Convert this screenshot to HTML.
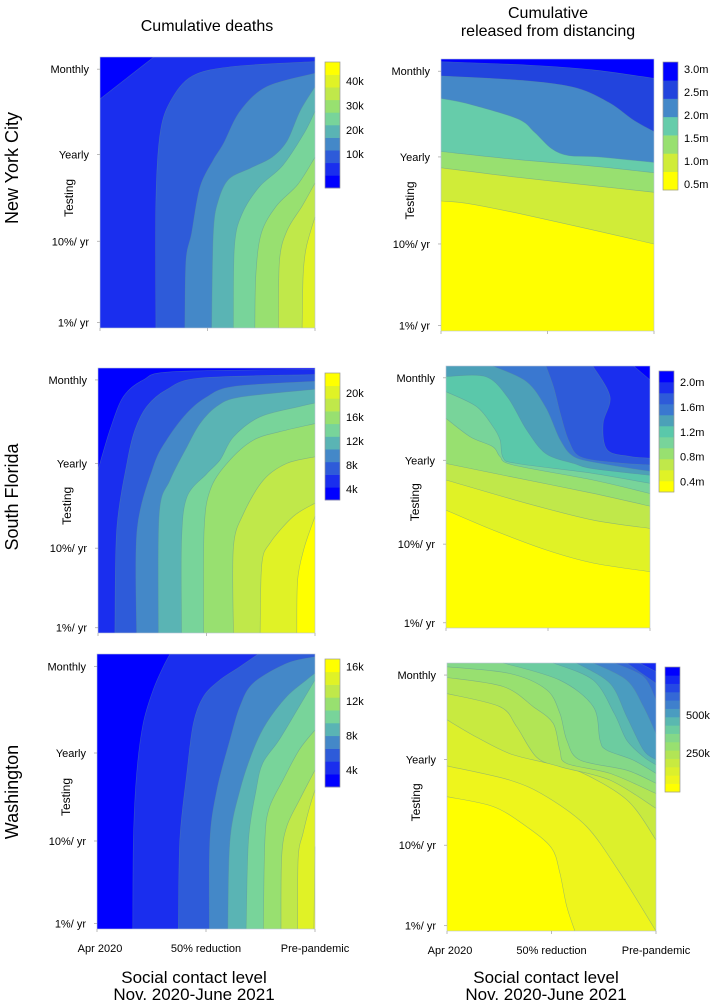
<!DOCTYPE html>
<html><head><meta charset="utf-8"><style>
html,body{margin:0;padding:0;background:#fff;}
svg{display:block;font-family:"Liberation Sans",sans-serif;}
</style></head><body>
<svg id="fig" width="714" height="1002" viewBox="0 0 714 1002" xmlns="http://www.w3.org/2000/svg">
<g id="texts">
<text x="207" y="31" font-size="16" text-anchor="middle">Cumulative deaths</text>
<text x="548" y="18" font-size="16" text-anchor="middle">Cumulative</text>
<text x="548" y="36" font-size="16" text-anchor="middle">released from distancing</text>
<text transform="translate(18,168) rotate(-90)" font-size="18" text-anchor="middle">New York City</text>
<text transform="translate(18,497) rotate(-90)" font-size="18" text-anchor="middle">South Florida</text>
<text transform="translate(18,792) rotate(-90)" font-size="18" text-anchor="middle">Washington</text>
<text x="194" y="983" font-size="17" text-anchor="middle">Social contact level</text>
<text x="194" y="1000" font-size="17" text-anchor="middle">Nov. 2020-June 2021</text>
<text x="546" y="983" font-size="17" text-anchor="middle">Social contact level</text>
<text x="546" y="1000" font-size="17" text-anchor="middle">Nov. 2020-June 2021</text>
</g>
</svg>
<script>
// ---- data: contour boundary curves as [contact level u (0..1), testing v (0..1)] ----
const yTickLabels = ["Monthly","Yearly","10%/ yr","1%/ yr"];
const yTickValues = [0.955,0.64,0.32,0.02];
const xTickLabels = ["Apr 2020","50% reduction","Pre-pandemic"];
const xTickValues = [0,0.5,1];

const deathColors = ["#0000ff","#1a2eee","#2e5bd9","#4488c8","#5ab4b4","#78d49a","#98e070","#c0e84a","#e0f226","#ffff00"];
const nycReleasedColors = ["#ffff00","#d0ec38","#98e070","#66ccaa","#4488c8","#2244dd","#0000ff"];
const flReleasedColors = ["#ffff00","#e0f226","#c0e84a","#98e070","#78d49a","#5ac8aa","#4ca0b8","#3a78d0","#2e5bd9","#1a2eee","#0000ff"];
const waReleasedColors = ["#ffff00","#eef51c","#dcf02c","#c8ea40","#b2e555","#98e070","#84d888","#6ccca0","#5ab8b0","#4a9cc0","#3f80cc","#3468d6","#2448e4","#1428f2","#0000ff"];

const nycDeaths = [
 [[0,0.845],[0.25,1]],
 [[0.26,0],[0.26,0.47],[0.28,0.72],[0.33,0.84],[0.43,0.93],[0.62,0.965],[1,0.983]],
 [[0.395,0],[0.40,0.25],[0.426,0.35],[0.465,0.52],[0.527,0.62],[0.574,0.68],[0.651,0.80],[0.775,0.89],[1,0.94]],
 [[0.519,0],[0.527,0.35],[0.55,0.47],[0.60,0.55],[0.70,0.59],[0.80,0.63],[0.87,0.69],[0.93,0.80],[1,0.89]],
 [[0.62,0],[0.625,0.3],[0.66,0.42],[0.74,0.52],[0.85,0.60],[0.95,0.72],[1,0.80]],
 [[0.72,0],[0.725,0.2],[0.75,0.35],[0.82,0.45],[0.92,0.53],[1,0.63]],
 [[0.83,0],[0.835,0.25],[0.87,0.36],[0.94,0.45],[1,0.535]],
 [[0.94,0],[0.945,0.2],[0.96,0.3],[1,0.41]]
];
const flDeaths = [
 [[0,0.615],[0.055,0.766],[0.117,0.892],[0.209,0.955],[0.346,0.986],[1,0.995]],
 [[0.078,0],[0.086,0.389],[0.133,0.64],[0.17,0.766],[0.225,0.855],[0.316,0.918],[0.47,0.962],[1,0.975]],
 [[0.178,0],[0.18,0.39],[0.255,0.627],[0.316,0.728],[0.41,0.83],[0.5,0.89],[0.624,0.93],[1,0.95]],
 [[0.278,0],[0.282,0.45],[0.332,0.577],[0.41,0.703],[0.47,0.79],[0.547,0.855],[0.655,0.89],[1,0.92]],
 [[0.385,0],[0.385,0.35],[0.41,0.514],[0.5,0.6],[0.563,0.654],[0.624,0.74],[0.747,0.816],[0.93,0.855],[1,0.868]],
 [[0.486,0],[0.489,0.39],[0.517,0.54],[0.594,0.64],[0.716,0.728],[0.87,0.766],[1,0.79]],
 [[0.624,0],[0.624,0.324],[0.67,0.45],[0.762,0.577],[0.87,0.64],[1,0.665]],
 [[0.747,0],[0.755,0.26],[0.793,0.34],[0.9,0.44],[1,0.49]],
 [[0.916,0],[0.92,0.2],[0.95,0.32],[1,0.44]]
];
const waDeaths = [
 [[0.164,0],[0.167,0.324],[0.182,0.566],[0.212,0.748],[0.258,0.87],[0.304,0.954],[0.335,1]],
 [[0.373,0],[0.38,0.324],[0.412,0.566],[0.442,0.748],[0.488,0.845],[0.564,0.906],[0.656,0.954],[0.74,1]],
 [[0.515,0],[0.518,0.324],[0.55,0.506],[0.61,0.688],[0.656,0.81],[0.717,0.894],[0.87,0.966],[1,0.99]],
 [[0.6,0],[0.61,0.324],[0.656,0.506],[0.717,0.652],[0.778,0.75],[0.87,0.845],[0.961,0.906],[1,0.93]],
 [[0.684,0],[0.695,0.324],[0.73,0.506],[0.76,0.603],[0.836,0.688],[0.928,0.81],[1,0.906]],
 [[0.763,0],[0.77,0.324],[0.79,0.44],[0.852,0.54],[0.928,0.652],[1,0.724]],
 [[0.844,0],[0.847,0.26],[0.87,0.372],[0.928,0.468],[0.975,0.54],[1,0.578]],
 [[0.92,0],[0.923,0.26],[0.945,0.348],[0.976,0.445],[1,0.506]],
 [[0.995,0],[1,0.3]]
];
const nycReleased = [
 [[0,0.478],[0.124,0.469],[0.36,0.433],[0.715,0.371],[1,0.32]],
 [[0,0.6],[0.36,0.565],[1,0.51]],
 [[0,0.66],[0.36,0.63],[0.715,0.606],[1,0.582]],
 [[0,0.855],[0.124,0.836],[0.36,0.78],[0.44,0.73],[0.52,0.67],[0.60,0.645],[0.74,0.64],[1,0.62]],
 [[0,0.938],[0.402,0.92],[0.637,0.893],[0.794,0.837],[0.904,0.775],[1,0.733]],
 [[0,0.99],[0.402,0.978],[0.715,0.96],[1,0.929]]
];
const flReleased = [
 [[0,0.45],[0.23,0.374],[0.49,0.298],[0.72,0.248],[1,0.215]],
 [[0,0.565],[0.395,0.476],[0.72,0.412],[1,0.38]],
 [[0,0.628],[0.314,0.578],[0.72,0.514],[1,0.465]],
 [[0,0.80],[0.118,0.73],[0.23,0.692],[0.265,0.654],[0.33,0.622],[0.72,0.565],[1,0.513]],
 [[0,0.902],[0.15,0.845],[0.23,0.769],[0.265,0.718],[0.28,0.65],[0.347,0.628],[0.72,0.59],[1,0.552]],
 [[0,0.96],[0.192,0.96],[0.30,0.883],[0.395,0.756],[0.49,0.665],[0.627,0.628],[0.72,0.608],[1,0.583]],
 [[0.23,1],[0.395,0.94],[0.49,0.84],[0.56,0.718],[0.627,0.654],[0.76,0.628],[1,0.598]],
 [[0.49,1],[0.527,0.92],[0.56,0.82],[0.60,0.718],[0.657,0.654],[0.82,0.632],[1,0.622]],
 [[0.72,1],[0.804,0.883],[0.77,0.78],[0.79,0.68],[0.9,0.655],[1,0.648]],
 [[0.92,1],[1,0.947]]
];
const waReleased = [
 [[0,0.501],[0.222,0.464],[0.38,0.39],[0.5,0.31],[0.54,0.216],[0.573,0.091],[0.612,0]],
 [[0,0.616],[0.30,0.563],[0.477,0.501],[0.668,0.39],[0.828,0.216],[1,0]],
 [[0,0.788],[0.14,0.724],[0.30,0.662],[0.46,0.63],[0.62,0.6],[0.86,0.49],[1,0.34]],
 [[0,0.886],[0.253,0.837],[0.333,0.763],[0.428,0.649],[0.54,0.613],[0.78,0.563],[1,0.458]],
 [[0,0.946],[0.27,0.912],[0.413,0.837],[0.508,0.775],[0.54,0.675],[0.573,0.625],[0.78,0.588],[1,0.513]],
 [[0,0.986],[0.30,0.961],[0.477,0.9],[0.54,0.812],[0.573,0.712],[0.636,0.638],[0.86,0.6],[1,0.551]],
 [[0.27,1],[0.54,0.936],[0.7,0.837],[0.732,0.712],[0.764,0.675],[0.89,0.638],[1,0.588]],
 [[0.508,1],[0.7,0.936],[0.8,0.812],[0.86,0.712],[0.94,0.65],[1,0.62]],
 [[0.62,1],[0.78,0.924],[0.86,0.8],[0.94,0.675],[1,0.639]],
 [[0.7,1],[0.86,0.936],[0.94,0.837],[1,0.737]],
 [[0.8,1],[0.94,0.949],[1,0.862]],
 [[0.86,1],[1,0.924]],
 [[0.92,1],[1,0.968]]
];
const nycDeathTicks = [10,20,30,40], nycDeathTickText = ["10k","20k","30k","40k"];
const flDeathTicks = [4,8,12,16,20], flDeathTickText = ["4k","8k","12k","16k","20k"];
const waDeathTicks = [4,8,12,16], waDeathTickText = ["4k","8k","12k","16k"];
const nycRelTicks = [0.5,1.0,1.5,2.0,2.5,3.0], nycRelTickText = ["0.5m","1.0m","1.5m","2.0m","2.5m","3.0m"];
const flRelTicks = [0.4,0.8,1.2,1.6,2.0], flRelTickText = ["0.4m","0.8m","1.2m","1.6m","2.0m"];
const waRelTicks = [250,500], waRelTickText = ["250k","500k"];

const panels = [
 {name:"nyc-deaths",x:100,y:57,w:215,h:271,curves:nycDeaths,colors:deathColors,rev:false,cb:{x:325,y:62,h:126,min:-3.8,max:47.7,ticks:nycDeathTicks,text:nycDeathTickText}},
 {name:"nyc-released",x:441,y:59,w:213,h:272,curves:nycReleased,colors:nycReleasedColors,rev:true,cb:{x:663,y:62,h:128,min:0.37,max:3.15,ticks:nycRelTicks,text:nycRelTickText}},
 {name:"fl-deaths",x:98,y:368,w:217,h:265,curves:flDeaths,colors:deathColors,rev:false,cb:{x:325,y:373,h:127,min:2.2,max:23.3,ticks:flDeathTicks,text:flDeathTickText}},
 {name:"fl-released",x:446,y:366,w:204,h:262,curves:flReleased,colors:flReleasedColors,rev:true,cb:{x:659,y:371,h:121,min:0.23,max:2.18,ticks:flRelTicks,text:flRelTickText}},
 {name:"wa-deaths",x:97,y:654,w:218,h:275,curves:waDeaths,colors:deathColors,rev:false,cb:{x:325,y:659,h:128,min:2.0,max:16.9,ticks:waDeathTicks,text:waDeathTickText}},
 {name:"wa-released",x:447,y:663,w:209,h:268,curves:waReleased,colors:waReleasedColors,rev:true,cb:{x:665,y:667,h:125,min:-7,max:816,ticks:waRelTicks,text:waRelTickText}}
];

const NS="http://www.w3.org/2000/svg";
const svg=document.getElementById('fig');
function mk(tag,attrs,parent){const e=document.createElementNS(NS,tag);for(const k in attrs)e.setAttribute(k,attrs[k]);parent.appendChild(e);return e;}
function perimT(p){const u=p[0],v=p[1];
 if(v>=0.999)return u; if(u>=0.999)return 1+(1-v); if(v<=0.001)return 2+(1-u); return 3+v;}
const cornerPts=[[0,1],[1,1],[1,0],[0,0]];
// Catmull-Rom smooth path through screen points
function smooth(sp){
 let d='M'+sp[0][0].toFixed(1)+','+sp[0][1].toFixed(1);
 for(let i=0;i<sp.length-1;i++){
  const p0=sp[Math.max(0,i-1)],p1=sp[i],p2=sp[i+1],p3=sp[Math.min(sp.length-1,i+2)];
  const t=0.16;
  const c1=[p1[0]+(p2[0]-p0[0])*t,p1[1]+(p2[1]-p0[1])*t];
  const c2=[p2[0]-(p3[0]-p1[0])*t,p2[1]-(p3[1]-p1[1])*t];
  d+=' C'+c1[0].toFixed(1)+','+c1[1].toFixed(1)+' '+c2[0].toFixed(1)+','+c2[1].toFixed(1)+' '+p2[0].toFixed(1)+','+p2[1].toFixed(1);
 }
 return d;
}

panels.forEach((P,pi)=>{
 const g=mk('g',{},svg);
 
 
 const sx=u=>P.x+u*P.w, sy=v=>P.y+(1-v)*P.h;
 const bg=mk('rect',{x:P.x,y:P.y,width:P.w,height:P.h,fill:P.colors[0]},g);
 
 
 P.curves.forEach((c0,ci)=>{
  const c=P.rev?c0.slice().reverse():c0;
  const sp=c.map(p=>[sx(p[0]),sy(p[1])]);
  const tS=perimT(c[0]); let tE=perimT(c[c.length-1]); let ts=tS; if(ts<=tE)ts+=4;
  let d=smooth(sp);
  for(let k=Math.floor(tE)+1;k<ts;k++){const cp=cornerPts[k%4];d+=' L'+sx(cp[0]).toFixed(1)+','+sy(cp[1]).toFixed(1);}
  d+='Z';
  const band=mk('path',{d:d,fill:P.colors[ci+1]},g);
  
  
  const line=mk('path',{d:smooth(sp),fill:'none',stroke:'#5a8aa0','stroke-opacity':0.5,'stroke-width':0.6},g);
  
  
 });
 const border=mk('rect',{x:P.x,y:P.y,width:P.w,height:P.h,fill:'none',stroke:'#b8c4d8','stroke-width':0.6},g);
 
 
 yTickValues.forEach((v,i)=>{
  mk('line',{x1:P.x-3,x2:P.x,y1:sy(v),y2:sy(v),stroke:'#aaa','stroke-width':0.8},g);
  const t=mk('text',{x:P.x-11,y:sy(v)+4,'font-size':11,'text-anchor':'end'},g);
  t.textContent=yTickLabels[i];
  
  
 });
 xTickValues.forEach((u,i)=>{
  mk('line',{x1:sx(u),x2:sx(u),y1:P.y+P.h,y2:P.y+P.h+3,stroke:'#aaa','stroke-width':0.8},g);
  if(pi>=4){const t=mk('text',{x:sx(u)+(i===0?3:0),y:P.y+P.h+23,'font-size':11,'text-anchor':'middle'},g);
   t.textContent=xTickLabels[i];
   
   }
 });
 const tx=P.x-27, ty=P.y+P.h*0.52;
 const tt=mk('text',{transform:'translate('+tx+','+ty+') rotate(-90)','font-size':12,'text-anchor':'middle'},g);
 tt.textContent='Testing';
 
 
 const cb=P.cb, n=P.colors.length, sh=cb.h/n;
 const cg=mk('g',{},g);
 
 
 P.colors.forEach((col,i)=>{
  const r=mk('rect',{x:cb.x,y:cb.y+cb.h-(i+1)*sh,width:15,height:sh+0.3,fill:col},cg);
  
  
 });
 mk('rect',{x:cb.x,y:cb.y,width:15,height:cb.h,fill:'none',stroke:'#999','stroke-width':0.7},cg);
 const cy=val=>cb.y+cb.h-(val-cb.min)/(cb.max-cb.min)*cb.h;
 cb.ticks.forEach((val,i)=>{
  const t=mk('text',{x:cb.x+21,y:cy(val)+4,'font-size':11},cg);
  t.textContent=cb.text[i];
  
  
 });
});
</script>
</body></html>
